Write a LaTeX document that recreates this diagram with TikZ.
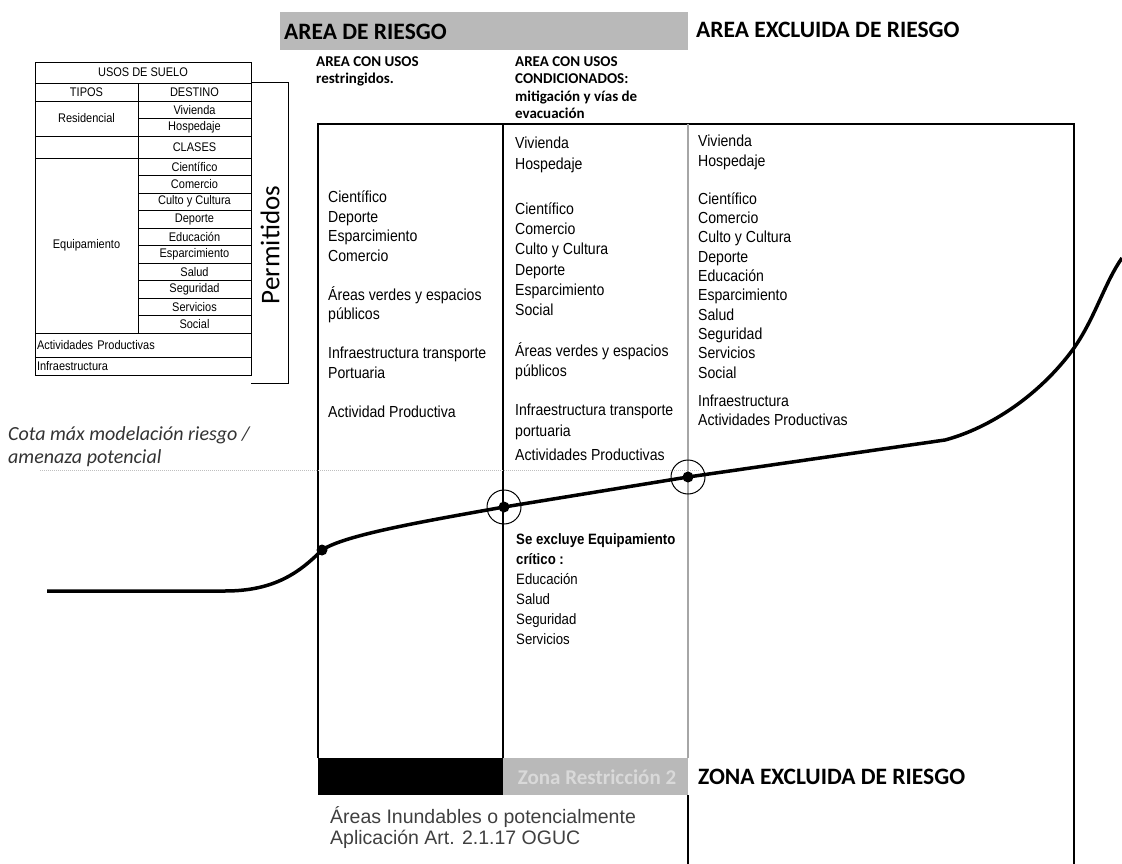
\documentclass[tikz,border=0pt]{standalone}
\usepackage{fontspec}
\setmainfont{Liberation Sans}
\newfontfamily\carlito{Carlito}
\newfontfamily\narrow{Liberation Sans}[FakeStretch=0.88]

\tikzset{
  celda/.style={draw,line width=0.8pt,inner sep=0pt,minimum width=113,minimum height=17.5,font=\narrow\fontsize{12.5}{13}\selectfont},
  lista/.style={anchor=north west,inner sep=0pt,align=left,font=\narrow\fontsize{16}{19.5}\selectfont},
  titulo/.style={anchor=west,inner sep=0pt,font=\carlito\bfseries\fontsize{23.5}{25}\selectfont},
  subtitulo/.style={anchor=north west,inner sep=0pt,align=left,font=\carlito\bfseries\fontsize{15}{16.5}\selectfont},
  borde/.style={line width=2.5pt},
  curva/.style={line width=3.5pt,line join=round},
}

\begin{document}
\begin{tikzpicture}[x=1pt,y=-1pt]
        \useasboundingbox[fill=white] (0,0) rectangle (1122,864);
        % cabecera
        \fill[gray!55] (280,12) rectangle (688,50);
        \node[titulo] (riesgo) at (284,32) {AREA DE RIESGO};
        \node[titulo] (excluida) at (696,30) {AREA EXCLUIDA DE RIESGO};
        \node[subtitulo] (restringidos) at (316,56) {AREA CON USOS\\[1pt]restringidos.};
        \node[subtitulo] (condicionados) at (515,56) {AREA CON USOS\\[1pt]CONDICIONADOS:\\[1pt]mitigación y vías de\\[1pt]evacuación};

        % tabla usos de suelo
        \node[celda,minimum width=216,minimum height=21] (usos) at (143,72.5) {USOS DE SUELO};
        \node[celda,minimum width=103,minimum height=18] (tipos) at (86.5,92) {TIPOS};
        \node[celda,minimum height=18] (destino) at (194.5,92) {DESTINO};
        \node[celda,minimum width=103,minimum height=35] (residencial) at (86.5,118.5) {Residencial};
        \node[celda] (vivienda) at (194.5,109.75) {Vivienda};
        \node[celda] (hospedaje) at (194.5,127.25) {Hospedaje};
        \node[celda,minimum width=103,minimum height=22] (vacia) at (86.5,147) {};
        \node[celda,minimum height=22] (clases) at (194.5,147) {CLASES};
        \node[celda,minimum width=103,minimum height=175] (equipamiento) at (86.5,245.5) {Equipamiento};
        \node[celda] (cientifico) at (194.5,166.75) {Científico};
        \node[celda] (comercio) at (194.5,184.25) {Comercio};
        \node[celda] (culto) at (194.5,201.75) {Culto y Cultura};
        \node[celda] (deporte) at (194.5,219.25) {Deporte};
        \node[celda] (educacion) at (194.5,236.75) {Educación};
        \node[celda] (esparcimiento) at (194.5,254.25) {Esparcimiento};
        \node[celda] (salud) at (194.5,271.75) {Salud};
        \node[celda] (seguridad) at (194.5,289.25) {Seguridad};
        \node[celda] (servicios) at (194.5,306.75) {Servicios};
        \node[celda] (social) at (194.5,324.25) {Social};
        \node[celda,minimum height=24,text width=212,inner xsep=2pt,align=left] (actividades) at (143,345) {Actividades Productivas};
        \node[celda,minimum height=18,text width=212,inner xsep=2pt,align=left] (infra) at (143,366) {Infraestructura};
        \draw[line width=0.8pt] (destino.north east) -| (288,383) -- (251,383);
        \node[rotate=90,font=\carlito\fontsize{27}{27}\selectfont] (permitidos) at (270,245) {Permitidos};

        % marco
        \draw[borde] (318,758) -- (318,124) -- (1074,124) -- (1074,864);
        \draw[borde] (503,124) -- (503,758);
        \draw[gray!70,line width=2pt] (688,124) -- (688,758);
        \draw[line width=1.5pt] (688,795) -- (688,864);

        % franja inferior
        \fill[black] (318,758) rectangle (503,795);
        \fill[gray!55] (503,758) rectangle (688,795);
        \node[font=\carlito\bfseries\fontsize{21}{22}\selectfont,text=gray!30] (zona2) at (597,777) {Zona Restricción 2};
        \node[titulo] (zonaexcluida) at (698,777) {ZONA EXCLUIDA DE RIESGO};
        \node[anchor=north west,inner sep=0pt,align=left,text=black!75,font=\fontsize{19.5}{21}\selectfont] (inundables) at (330,806) {Áreas Inundables o potencialmente\\Aplicación Art. 2.1.17 OGUC};

        % usos por area
        \node[lista] (col1) at (328,191) {Científico\\Deporte\\Esparcimiento\\Comercio\\[19.5pt]Áreas verdes y espacios\\públicos\\[19.5pt]Infraestructura transporte\\Portuaria\\[19.5pt]Actividad Productiva};
        \node[lista,font=\narrow\fontsize{16}{20.3}\selectfont] (col2) at (515,137) {Vivienda\\Hospedaje\\[25pt]Científico\\Comercio\\Culto y Cultura\\Deporte\\Esparcimiento\\Social\\[20pt]Áreas verdes y espacios\\públicos\\[19pt]Infraestructura transporte\\portuaria\\[4pt]Actividades Productivas};
        \node[lista,font=\narrow\fontsize{16}{19.3}\selectfont] (col3) at (698,135) {Vivienda\\Hospedaje\\[19pt]Científico\\Comercio\\Culto y Cultura\\Deporte\\Educación\\Esparcimiento\\Salud\\Seguridad\\Servicios\\Social\\[9pt]Infraestructura\\Actividades Productivas};
        \node[lista,font=\narrow\fontsize{15}{20}\selectfont] (excluye) at (516,533) {\textbf{Se excluye Equipamiento}\\\textbf{crítico :}\\Educación\\Salud\\Seguridad\\Servicios};

        % cota
        \draw[gray!50,densely dotted,line width=1pt] (40,470) -- (700,470);
        \node[anchor=north west,inner sep=0pt,align=left,text=black!80,font=\carlito\itshape\fontsize{20}{23}\selectfont] (cota) at (8,426) {Cota máx modelación riesgo /\\amenaza potencial};

        \coordinate (inicio) at (47,591);
        \coordinate (p1) at (322,550);
        \coordinate (p2) at (504,507);
        \coordinate (p3) at (688,477);
        \coordinate (fin) at (1122,258);
        \draw[curva] (inicio) -- (225,591) .. controls (275,591) and (300,572) .. (p1) .. controls (345,535) and (420,522) .. (p2) -- (p3) -- (945,440) .. controls (990,428) and (1040,395) .. (1074,348) .. controls (1095,318) and (1105,282) .. (fin);
        \fill (p1) circle (5.5pt);
        \fill (p2) circle (5.5pt);
        \fill (p3) circle (5.5pt);
        \draw[line width=1pt] (p2) circle (17pt);
        \draw[line width=1pt] (p3) circle (17pt);
    \end{tikzpicture}
\end{document}
